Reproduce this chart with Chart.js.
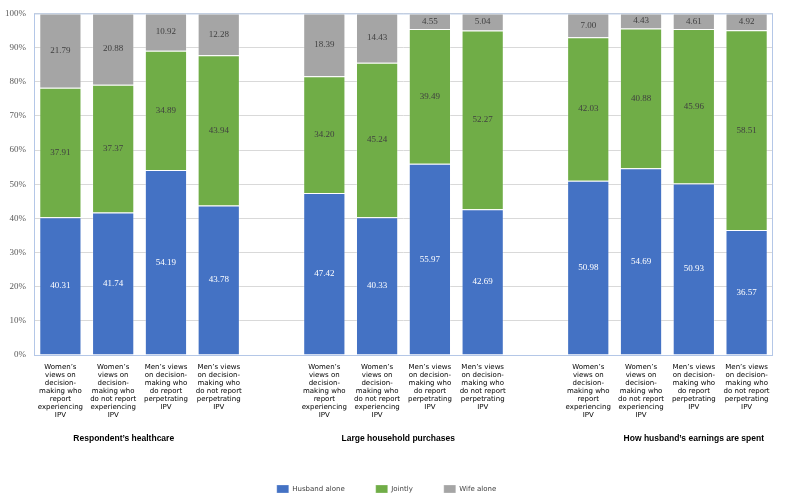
<!DOCTYPE html>
<html>
<head>
<meta charset="utf-8">
<script src="https://cdn.jsdelivr.net/npm/chart.js@4.4.1/dist/chart.umd.min.js"></script>
<style>
  html, body { margin: 0; padding: 0; background: #fff; }
  #wrap { width: 787px; height: 499px; }
</style>
</head>
<body>
<div id="wrap"><canvas id="ipvChart"></canvas></div>
<script>
// Bar labels (one group of four, repeated for each decision)
const barLabels = [
    ['Women’s', 'views on', 'decision-', 'making who', 'report', 'experiencing', 'IPV'],
    ['Women’s', 'views on', 'decision-', 'making who', 'do not report', 'experiencing', 'IPV'],
    ['Men’s views', 'on decision-', 'making who', 'do report', 'perpetrating', 'IPV'],
    ['Men’s views', 'on decision-', 'making who', 'do not report', 'perpetrating', 'IPV']
];
const groupTitles = ['Respondent’s healthcare', 'Large household purchases', 'How husband’s earnings are spent'];

// null = empty slot between groups
const husbandAlone = [40.31, 41.74, 54.19, 43.78, null, 47.42, 40.33, 55.97, 42.69, null, 50.98, 54.69, 50.93, 36.57];
const jointly      = [37.91, 37.37, 34.89, 43.94, null, 34.20, 45.24, 39.49, 52.27, null, 42.03, 40.88, 45.96, 58.51];
const wifeAlone    = [21.79, 20.88, 10.92, 12.28, null, 18.39, 14.43,  4.55,  5.04, null,  7.00,  4.43,  4.61,  4.92];

const yTicks = [0, 10, 20, 30, 40, 50, 60, 70, 80, 90, 100];

// where each group title sits, in category units
const titleSlots = [1.2, 6.4, 12.0];

const categories = [...barLabels, '', ...barLabels, '', ...barLabels];

// 100% stacked: each bar is scaled to its own total
function toShare(values) {
    return values.map((v, i) => {
        if (v === null) return null;
        const total = husbandAlone[i] + jointly[i] + wifeAlone[i];
        return v / total * 100;
    });
}

const valueLabels = {
    id: 'valueLabels',
    afterDatasetsDraw(chart) {
        const ctx = chart.ctx;
        ctx.save();
        ctx.font = '9px "Liberation Serif", "Times New Roman", serif';
        ctx.textAlign = 'center';
        ctx.textBaseline = 'middle';
        chart.data.datasets.forEach((ds, di) => {
            const meta = chart.getDatasetMeta(di);
            ctx.fillStyle = ds.labelColor;
            meta.data.forEach((bar, i) => {
                const v = ds.rawValues[i];
                if (v === null) return;
                ctx.fillText(v.toFixed(2), bar.x, (bar.y + bar.base) / 2);
            });
        });
        ctx.restore();
    }
};

const plotFrame = {
    id: 'plotFrame',
    beforeDatasetsDraw(chart) {
        const a = chart.chartArea;
        const ctx = chart.ctx;
        ctx.save();
        ctx.strokeStyle = '#b4c7e7';
        ctx.lineWidth = 1;
        ctx.strokeRect(a.left + 0.5, a.top + 0.5, a.right - a.left - 1, a.bottom - a.top);
        ctx.restore();
    }
};

const groupTitleText = {
    id: 'groupTitleText',
    afterDraw(chart) {
        const ctx = chart.ctx;
        const x = chart.scales.x;
        ctx.save();
        ctx.font = 'bold 8.5px "Liberation Sans", Arial, sans-serif';
        ctx.fillStyle = '#000';
        ctx.textAlign = 'center';
        ctx.textBaseline = 'middle';
        groupTitles.forEach((t, i) => {
            ctx.fillText(t, x.getPixelForValue(titleSlots[i]), x.top + 84);
        });
        ctx.restore();
    }
};

new Chart(document.getElementById('ipvChart'), {
    type: 'bar',
    data: {
        labels: categories,
        datasets: [
            { label: 'Husband alone', data: toShare(husbandAlone), rawValues: husbandAlone, labelColor: '#ffffff',
              backgroundColor: '#4472c4', borderColor: 'rgba(255,255,255,0.25)', borderWidth: 1 },
            { label: 'Jointly', data: toShare(jointly), rawValues: jointly, labelColor: '#404040',
              backgroundColor: '#70ad47', borderColor: 'rgba(255,255,255,0.25)', borderWidth: 1 },
            { label: 'Wife alone', data: toShare(wifeAlone), rawValues: wifeAlone, labelColor: '#404040',
              backgroundColor: '#a5a5a5', borderColor: 'rgba(255,255,255,0.25)', borderWidth: 1 }
        ]
    },
    options: {
        responsive: true,
        maintainAspectRatio: false,
        animation: false,
        layout: {
            padding: { left: 0, right: 14, top: 10, bottom: -4 }
        },
        datasets: {
            bar: { categoryPercentage: 1, barPercentage: 0.8 }
        },
        plugins: {
            tooltip: { enabled: false },
            legend: {
                position: 'bottom',
                labels: {
                    boxWidth: 12,
                    boxHeight: 8,
                    padding: 31,
                    color: '#404040',
                    font: { family: '"DejaVu Sans", Verdana, sans-serif', size: 7 }
                }
            }
        },
        scales: {
            x: {
                stacked: true,
                grid: { display: false },
                border: { display: false },
                ticks: {
                    autoSkip: false,
                    maxRotation: 0,
                    padding: 0,
                    color: '#000',
                    font: { family: '"DejaVu Sans", Verdana, sans-serif', size: 7, lineHeight: 1.14 }
                },
                afterFit(scale) { scale.height = 99; }
            },
            y: {
                stacked: true,
                min: 0,
                max: 100,
                afterBuildTicks(scale) { scale.ticks = yTicks.map(v => ({ value: v })); },
                grid: { color: '#d9d9d9', drawTicks: false },
                border: { display: false },
                ticks: {
                    padding: 8,
                    color: '#595959',
                    font: { family: '"Liberation Serif", "Times New Roman", serif', size: 9 },
                    callback: v => v + '%'
                },
                afterFit(scale) { scale.width = 34; }
            }
        }
    },
    plugins: [plotFrame, valueLabels, groupTitleText]
});
</script>
</body>
</html>
